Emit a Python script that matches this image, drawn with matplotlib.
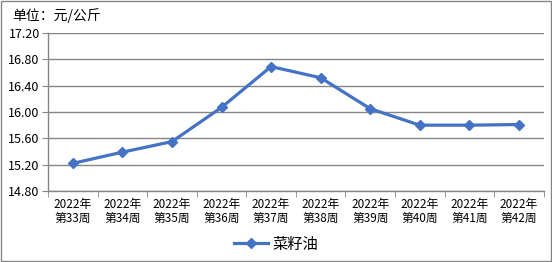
import matplotlib.pyplot as plt
from matplotlib.patches import Rectangle

plt.rcParams['font.family'] = ['Noto Sans CJK SC', 'DejaVu Sans']

weeks = ["2022年\n第33周", "2022年\n第34周", "2022年\n第35周", "2022年\n第36周", "2022年\n第37周",
         "2022年\n第38周", "2022年\n第39周", "2022年\n第40周", "2022年\n第41周", "2022年\n第42周"]
prices = [15.22, 15.39, 15.55, 16.07, 16.69, 16.52, 16.05, 15.80, 15.80, 15.81]
yticks = [14.80, 15.20, 15.60, 16.00, 16.40, 16.80, 17.20]

fig = plt.figure(figsize=(5.52, 2.62), dpi=100)
ax = fig.add_axes([0.087, 0.271, 0.898, 0.603])

x = list(range(len(weeks)))
ax.plot(x, prices, color='#4472C4', lw=2.3, marker='D', ms=5.5, label='菜籽油')

ax.set_xlim(-0.5, len(weeks) - 0.5)
ax.set_ylim(14.80, 17.20)
ax.set_yticks(yticks)
ax.set_yticklabels([f"{v:.2f}" for v in yticks], fontsize=9)
ax.set_xticks(x)
ax.set_xticklabels(weeks, fontsize=8.5, linespacing=1.05)
ax.set_xticks([i - 0.5 for i in range(len(weeks) + 1)], minor=True)
ax.tick_params(axis='x', which='major', length=0, pad=5)
ax.tick_params(axis='x', which='minor', length=4, color='#868686')
ax.tick_params(axis='y', length=4, color='#868686', pad=2)
ax.grid(axis='y', color='#868686', lw=1)
ax.set_axisbelow(True)
for s in ['top', 'right']:
    ax.spines[s].set_visible(False)
for s in ['left', 'bottom']:
    ax.spines[s].set_color('#868686')
    ax.spines[s].set_linewidth(1)

fig.text(0.022, 0.94, "单位：元/公斤", fontsize=10, va='center')
fig.legend(loc='center', bbox_to_anchor=(0.5, 0.068), frameon=False, fontsize=11,
           handlelength=2.2, handletextpad=0.3)
fig.patches.append(Rectangle((0.002, 0.004), 0.996, 0.992, transform=fig.transFigure,
                             fill=False, edgecolor='#868686', lw=1))

fig.savefig('out.png', dpi=100)
